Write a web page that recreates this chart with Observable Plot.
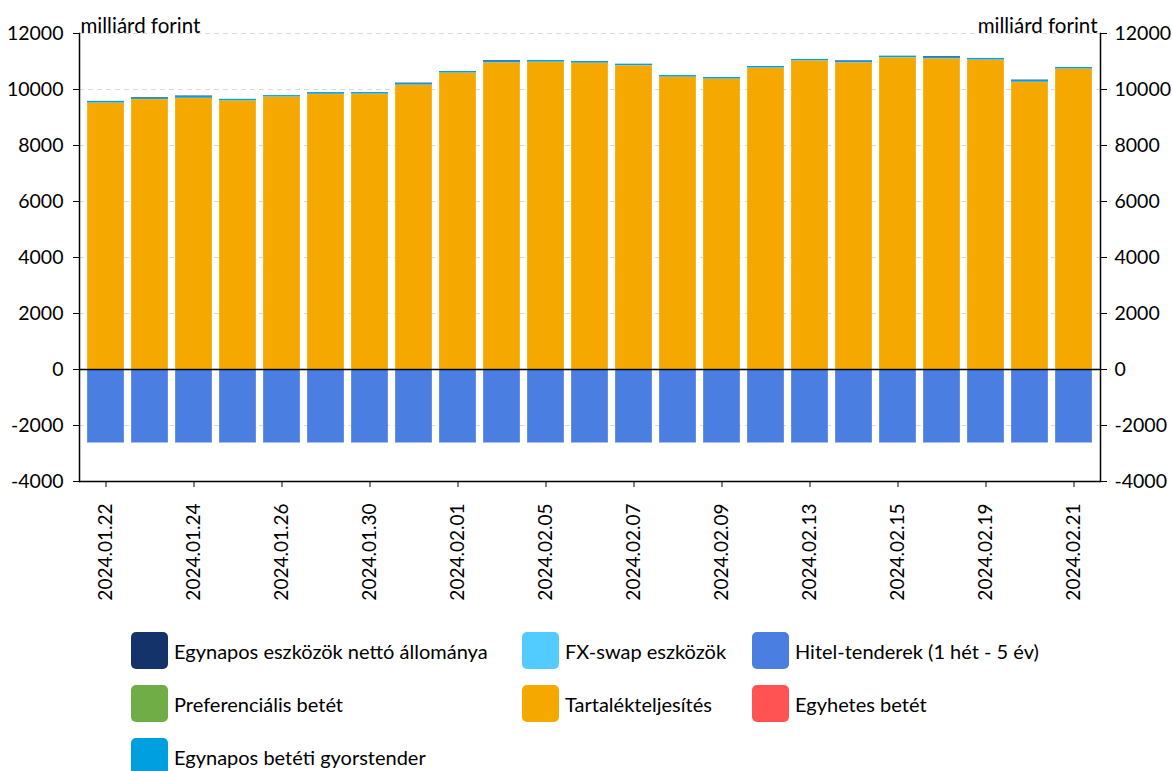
<!DOCTYPE html>
<html>
<head>
<meta charset="utf-8">
<script src="https://cdn.jsdelivr.net/npm/d3@7"></script>
<script src="https://cdn.jsdelivr.net/npm/@observablehq/plot@0.6"></script>
<style>
  body { margin: 0; background: #fff; font-family: Lato, "Open Sans", sans-serif; }
  #wrap { position: relative; width: 1172px; height: 771px; }
  .item { position: absolute; display: flex; align-items: center; font-size: 20px; color: #000; white-space: nowrap; }
  .sw { width: 37px; height: 37px; border-radius: 5px; margin-right: 6px; }
  .yax text { font-size: 19.5px; }
  .xax text { font-size: 19px; }
</style>
</head>
<body>
<div id="wrap"><div id="chart"></div></div>
<script>
const dates = ["2024.01.22","2024.01.23","2024.01.24","2024.01.25","2024.01.26","2024.01.29","2024.01.30","2024.01.31",
  "2024.02.01","2024.02.02","2024.02.05","2024.02.06","2024.02.07","2024.02.08","2024.02.09","2024.02.12",
  "2024.02.13","2024.02.14","2024.02.15","2024.02.16","2024.02.19","2024.02.20","2024.02.21"];
const tickDates = ["2024.01.22","2024.01.24","2024.01.26","2024.01.30","2024.02.01","2024.02.05","2024.02.07",
  "2024.02.09","2024.02.13","2024.02.15","2024.02.19","2024.02.21"];
const tartalek = [9517, 9644, 9686, 9594, 9732, 9830, 9835, 10157, 10588, 10951, 10977, 10941, 10850, 10444, 10373, 10767, 11023, 10951, 11137, 11095, 11054, 10260, 10731];
const gyorstender = [60, 55, 60, 55, 50, 60, 55, 55, 55, 50, 60, 60, 55, 55, 55, 55, 50, 50, 55, 50, 55, 60, 55];
const egynaposEszkoz = [0, 15, 20, 0, 0, 0, 0, 15, 0, 25, 0, 0, 0, 0, 0, 0, 0, 20, 0, 25, 0, 15, 0];
const hitelTender = [-2630, -2630, -2630, -2630, -2630, -2630, -2630, -2630, -2630, -2630, -2630, -2630, -2630, -2630, -2630, -2630, -2630, -2630, -2630, -2630, -2630, -2630, -2630];
const yTicks = [-4000, -2000, 0, 2000, 4000, 6000, 8000, 10000, 12000];
const gridTicks = [-2000, 2000, 4000, 6000, 8000, 10000, 12000];
const unitLabel = "milliárd forint";

const series = [
  {name: "Egynapos eszközök nettó állománya", color: "#14336b"},
  {name: "FX-swap eszközök", color: "#52cbff"},
  {name: "Hitel-tenderek (1 hét - 5 év)", color: "#4a7ee0"},
  {name: "Preferenciális betét", color: "#70ad47"},
  {name: "Tartalékteljesítés", color: "#f5a800"},
  {name: "Egyhetes betét", color: "#ff5252"},
  {name: "Egynapos betéti gyorstender", color: "#009fe0"}
];
const colorOf = Object.fromEntries(series.map(s => [s.name, s.color]));

const rows = [];
dates.forEach((d, i) => {
  rows.push({date: d, s: "Hitel-tenderek (1 hét - 5 év)", v: hitelTender[i], o: 0});
  rows.push({date: d, s: "Tartalékteljesítés", v: tartalek[i], o: 1});
  rows.push({date: d, s: "Egynapos betéti gyorstender", v: gyorstender[i], o: 2});
  rows.push({date: d, s: "Egynapos eszközök nettó állománya", v: egynaposEszkoz[i], o: 3});
});

const plot = Plot.plot({
  width: 1172,
  height: 615,
  marginLeft: 79,
  marginRight: 72,
  marginTop: 33,
  marginBottom: 134,
  style: {fontFamily: "Lato, 'Open Sans', sans-serif", fontSize: "19px", color: "#000"},
  x: {domain: dates, padding: 0.165, label: null},
  y: {domain: [-4000, 12000], label: null},
  marks: [
    Plot.ruleY(gridTicks, {stroke: "#d9d9d9", strokeDasharray: "5,4", strokeWidth: 1}),
    Plot.barY(rows, {x: "date", y: "v", fill: d => colorOf[d.s], order: "o",
      stroke: "#fff", strokeOpacity: d => (d.o <= 1 ? 0.3 : 0), strokeWidth: 1}),
    Plot.ruleY([0], {stroke: "#000", strokeWidth: 1.5}),
    Plot.ruleY([-4000], {stroke: "#000", strokeWidth: 1.5}),
    Plot.frame({anchor: "left", stroke: "#000", strokeWidth: 1.5}),
    Plot.frame({anchor: "right", stroke: "#000", strokeWidth: 1.5}),
    Plot.axisY({anchor: "left", ticks: yTicks, tickSize: 6, tickPadding: 10, label: null, tickFormat: d => String(d), className: "yax"}),
    Plot.axisY({anchor: "right", ticks: yTicks, tickSize: 6, tickPadding: 8, label: null, tickFormat: d => String(d), className: "yax"}),
    Plot.axisX({ticks: tickDates, tickSize: 6, tickPadding: 16, tickRotate: -90, label: null, className: "xax"}),
    Plot.text([unitLabel], {frameAnchor: "top-left", textAnchor: "start", dx: 1, dy: -15, fontSize: 20.5}),
    Plot.text([unitLabel], {frameAnchor: "top-right", textAnchor: "end", dx: -3, dy: -15, fontSize: 20.5})
  ]
});
document.getElementById("chart").appendChild(plot);

const legendPos = [
  [131, 632], [522, 632], [752, 632],
  [131, 685], [522, 685], [752, 685],
  [131, 738]
];
const wrap = document.getElementById("wrap");
series.forEach((s, i) => {
  const it = document.createElement("div");
  it.className = "item";
  it.style.left = legendPos[i][0] + "px";
  it.style.top = legendPos[i][1] + "px";
  const sw = document.createElement("div");
  sw.className = "sw";
  sw.style.background = s.color;
  const t = document.createElement("span");
  t.textContent = s.name;
  it.appendChild(sw); it.appendChild(t);
  wrap.appendChild(it);
});
</script>
</body>
</html>
